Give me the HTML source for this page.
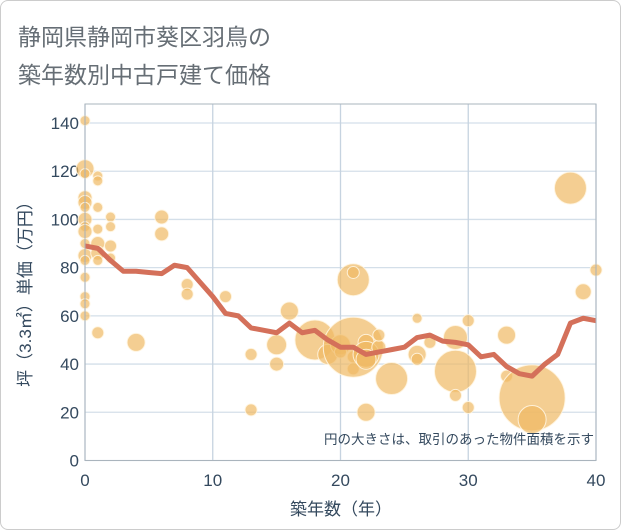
<!DOCTYPE html>
<html><head><meta charset="utf-8"><style>
body{margin:0;background:#fff;}
#wrap{position:relative;width:619px;height:528px;border:1px solid #ccc;border-radius:8px;background:#fff;overflow:hidden;}
.t{position:absolute;left:17px;font:23px "Liberation Sans","Noto Sans CJK JP",sans-serif;color:#666e75;}
svg text{font-family:"Liberation Sans","Noto Sans CJK JP",sans-serif;fill:#34495e;}
</style></head><body>
<div id="wrap">
<div class="t" style="top:17px">静岡県静岡市葵区羽鳥の</div>
<div class="t" style="top:55px">築年数別中古戸建て価格</div>
<svg id="c" width="621" height="530" style="position:absolute;left:-1px;top:-1px"></svg>
</div>
<script>
const xTicks=[0,10,20,30,40];
const yTicks=[0,20,40,60,80,100,120,140];
const lineYears=[0,1,2,3,4,5,6,7,8,9,10,11,12,13,14,15,16,17,18,19,20,21,22,23,24,25,26,27,28,29,30,31,32,33,34,35,36,37,38,39,40];
const lineValues=[89,88,83,78.5,78.5,78,77.5,81,80,74,68,61,60,55,54,53,57,53,54,50,47,47,44,45,46,47,51,52,49.5,49,48,43,44,39,36,35,40,44,57,59,58];
const bubbleX=[0,0,0,0,0,0,0,0,0,0,0,0,0,0,0,0,1,1,1,1,1,1,1,1,2,2,2,2,4,6,6,8,8,11,13,13,15,15,16,18,19,20,20,21,21,21,21,21,22,22,22,22,23,23,24,26,26,26,27,29,29,29,30,30,33,33,35,35,38,39,40];
const bubbleY=[141,121,119,109,107,105,100,97,95,90,85,83,76,68,65,60,118,116,105,96,90,86,83,53,101,97,89,84,49,101,94,73,69,68,44,21,48,40,62,50,44,48,45,75,78,43,38,47,49,44,42,20,47,52,34,59,44,42,49,37,51,27,58,22,52,35,26,17,113,70,79];
const bubbleSize=[5,9,5,7,7,5,7,5,7,5,7,5,5,5,5,5,5,5,5,5,7,7,5,6,5,5,6,5,9,7,7,6,6,6,6,6,10,7,9,20,10,10,6,16,6,6,6,30,8,13,10,9,7,6,16,5,9,6,6,21,12,6,6,6,9,6,33,14,16,8,6];
const NS='http://www.w3.org/2000/svg';
const svg=document.getElementById('c');
const L=85,R=596,T=104,B=460.5;
const sx=v=>L+(R-L)*v/40;
const sy=v=>B-(B-123)*v/140;
function mk(t,a){const e=document.createElementNS(NS,t);for(const k in a)e.setAttribute(k,a[k]);svg.appendChild(e);return e;}
const bg=mk('rect',{x:L,y:T,width:R-L,height:B-T,fill:'#fff',stroke:'#aab4bd'});


yTicks.forEach(v=>{
 const g=mk('line',{x1:L,x2:R,y1:sy(v),y2:sy(v),stroke:'#d4dfe9','stroke-width':1.3});
 
 
 const t=mk('text',{x:L-6,y:sy(v)+6,'text-anchor':'end','font-size':17});t.textContent=v;
 
 
});
xTicks.forEach(v=>{
 const g=mk('line',{x1:sx(v),x2:sx(v),y1:T,y2:B,stroke:'#c6d3e0','stroke-width':1.3});
 
 
 const t=mk('text',{x:sx(v),y:486,'text-anchor':'middle','font-size':17});t.textContent=v;
 
 
});
bubbleX.forEach((x,i)=>{
 const c=mk('circle',{cx:sx(x),cy:sy(bubbleY[i]),r:bubbleSize[i],fill:'rgba(240,185,100,0.7)',stroke:'rgba(255,245,225,0.9)','stroke-width':1});
 
 
});
const pl=mk('polyline',{points:lineYears.map((x,i)=>sx(x)+','+sy(lineValues[i])).join(' '),fill:'none',stroke:'#d4705a','stroke-width':5,'stroke-linejoin':'round'});


mk('rect',{x:L,y:T,width:R-L,height:B-T,fill:'none',stroke:'#aab4bd'});
const note=mk('text',{x:594,y:444,'text-anchor':'end','font-size':13.5});note.textContent='円の大きさは、取引のあった物件面積を示す';


const xt=mk('text',{x:341,y:515,'text-anchor':'middle','font-size':17});xt.textContent='築年数（年）';


const yt=mk('text',{x:0,y:0,'text-anchor':'middle','font-size':17,transform:'translate(31,290) rotate(-90)'});yt.textContent='坪（3.3㎡）単価（万円）';


</script>
</body></html>
